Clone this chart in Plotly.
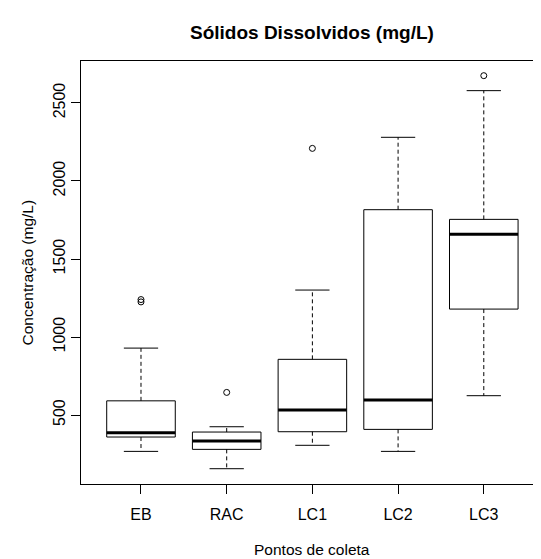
import plotly.graph_objects as go

categories = ["EB", "RAC", "LC1", "LC2", "LC3"]
lower_whisker = [267, 156, 306, 267, 624]
q1 = [359, 280, 393, 408, 1179]
median = [387, 333, 532, 596, 1658]
q3 = [591, 391, 857, 1816, 1754]
upper_whisker = [929, 425, 1301, 2280, 2579]
outlier_group = ["EB", "EB", "RAC", "LC1", "LC3"]
outlier_value = [1225, 1240, 645, 2209, 2675]
y_ticks = [500, 1000, 1500, 2000, 2500]

FONT = "Liberation Sans, Arial, sans-serif"
BOX_HALF = 0.4
CAP_HALF = 0.2

fig = go.Figure()
pos = {c: i + 1 for i, c in enumerate(categories)}

for i, c in enumerate(categories):
    x = pos[c]
    fig.add_trace(go.Scatter(
        x=[x - BOX_HALF, x + BOX_HALF, x + BOX_HALF, x - BOX_HALF, x - BOX_HALF],
        y=[q1[i], q1[i], q3[i], q3[i], q1[i]],
        mode="lines", line=dict(color="black", width=1), hoverinfo="skip", showlegend=False))
    fig.add_trace(go.Scatter(
        x=[x - BOX_HALF, x + BOX_HALF], y=[median[i], median[i]],
        mode="lines", line=dict(color="black", width=3), hoverinfo="skip", showlegend=False))
    fig.add_trace(go.Scatter(
        x=[x, x, None, x, x], y=[q3[i], upper_whisker[i], None, q1[i], lower_whisker[i]],
        mode="lines", line=dict(color="black", width=1, dash="4px,3px"),
        hoverinfo="skip", showlegend=False))
    fig.add_trace(go.Scatter(
        x=[x - CAP_HALF, x + CAP_HALF, None, x - CAP_HALF, x + CAP_HALF],
        y=[upper_whisker[i], upper_whisker[i], None, lower_whisker[i], lower_whisker[i]],
        mode="lines", line=dict(color="black", width=1), hoverinfo="skip", showlegend=False))

fig.add_trace(go.Scatter(
    x=[pos[g] for g in outlier_group], y=outlier_value, mode="markers",
    marker=dict(symbol="circle-open", size=6, color="black", line=dict(width=1)),
    hoverinfo="skip", showlegend=False))

# page body has an 8px margin, so the figure is offset by 8px
fig.update_layout(
    width=533, height=551,
    margin=dict(l=73, r=0, t=53, b=75),
    paper_bgcolor="white", plot_bgcolor="white",
    font=dict(family=FONT, size=15, color="black"),
    showlegend=False,
    xaxis=dict(
        range=[0.3, 0.3 + 460 / 85.7],
        tickmode="array", tickvals=[pos[c] for c in categories], ticktext=categories,
        ticks="outside", ticklen=9, tickcolor="black", tickwidth=1,
        showline=True, linecolor="black", linewidth=1, mirror=True,
        showgrid=False, zeroline=False, ticklabelstandoff=7,
        tickfont=dict(size=16)),
    yaxis=dict(
        range=[58, 2769],
        tickmode="array", tickvals=y_ticks, ticktext=[str(v) for v in y_ticks],
        ticks="outside", ticklen=9, tickcolor="black", tickwidth=1,
        showline=True, linecolor="black", linewidth=1,
        showgrid=False, zeroline=False, tickangle=-90,
        tickfont=dict(size=16)),
    annotations=[
        dict(text="<b>Sólidos Dissolvidos (mg/L)</b>", x=(312 - 81) / 460, y=(484 - 33) / 423,
             xref="paper", yref="paper", showarrow=False, xanchor="center", yanchor="middle",
             font=dict(size=19)),
        dict(text="Pontos de coleta", x=(312 - 81) / 460, y=(484 - 549) / 423,
             xref="paper", yref="paper", showarrow=False, xanchor="center", yanchor="middle",
             font=dict(size=15.5)),
        dict(text="Concentração (mg/L)", x=(27 - 81) / 460, y=0.5, textangle=-90,
             xref="paper", yref="paper", showarrow=False, xanchor="center", yanchor="middle",
             font=dict(size=15.5)),
    ],
)

fig.write_html("out.html")
